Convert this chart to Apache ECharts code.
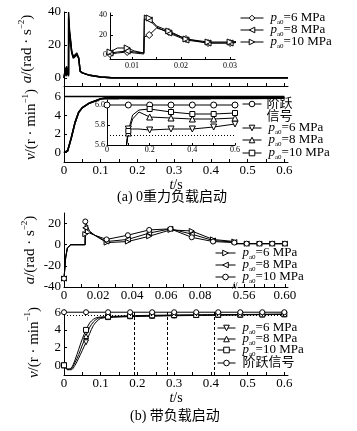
<!DOCTYPE html>
<html><head><meta charset="utf-8">
<script src="https://cdn.jsdelivr.net/npm/echarts@6/dist/echarts.min.js"></script>
<style>html,body{margin:0;padding:0;background:#fff}#c{width:357px;height:431px}</style>
</head><body><div id="c"></div>
<script>
const FONT = "'Liberation Serif','Noto Sans CJK SC','DejaVu Serif',serif";

// ===== (a) 0重力负载启动 =====
// angular acceleration a (rad/s^2) vs t (s)
const tA   = [0, 0.003, 0.004, 0.0055, 0.007, 0.009, 0.0105, 0.0124, 0.0125, 0.0135, 0.015, 0.0175, 0.021, 0.0255, 0.03, 0.035, 0.04, 0.044, 0.05, 0.07, 0.1, 0.13, 0.61];
const aA6  = [0, 0, 6, 1, 2, 3, 2, 1, 18, 20, 27, 23, 16, 12, 12, 14, 12, 4, 3, 1.5, 0.5, 0, 0];
const aA8  = [0, 0, 6, 2, 3, 4, 3, 2, 36, 35, 28, 22, 15, 12, 12, 14, 12, 4, 3, 1.5, 0.5, 0, 0];
const aA10 = [0, 0, 6, 3, 7, 7, 4, 2, 40, 37, 29, 24, 16, 13, 13, 15, 12, 4, 3, 1.5, 0.5, 0, 0];
const markA = [0.0055, 0.009, 0.0135, 0.0175, 0.021, 0.0255, 0.03];

// speed v (r/min) vs t (s)
const tVA   = [0, 0.01, 0.02, 0.03, 0.04, 0.05, 0.07, 0.09, 0.1, 0.12, 0.15, 0.2, 0.3, 0.4, 0.5, 0.6];
const vA6   = [0, 0.2, 1.6, 3.2, 4.3, 4.8, 5.3, 5.58, 5.76, 5.76, 5.76, 5.75, 5.76, 5.76, 5.78, 5.81];
const vA8   = [0, 0.2, 1.6, 3.2, 4.3, 4.8, 5.3, 5.58, 5.72, 5.86, 5.93, 5.88, 5.87, 5.86, 5.86, 5.87];
const vA10  = [0, 0.2, 1.6, 3.2, 4.3, 4.8, 5.3, 5.58, 5.74, 5.9, 5.95, 5.96, 5.93, 5.91, 5.91, 5.92];
const tStepA = [0, 0.1, 0.2, 0.3, 0.4, 0.5, 0.6];
const vStepA = [6, 6, 6, 6, 6, 6, 6];
const markVA = [0.1, 0.2, 0.3, 0.4, 0.5, 0.6];
const bandA = 5.7;

// ===== (b) 带负载启动 =====
const tB   = [0, 0.001, 0.002, 0.004, 0.0124, 0.0125, 0.015, 0.018, 0.025, 0.0375, 0.05, 0.0625, 0.075, 0.0875, 0.1, 0.5625, 0.575, 0.5875, 0.6];
const aB6  = [-32, -12, -3, 0, 0, 10, 11, 9, 2, 3, 8, 14, 13, 5, 3, 1, 1, 1, 1];
const aB8  = [-32, -12, -3, 0, 0, 16, 12, 9, 3, 5, 11, 15, 10, 4, 2.5, 1, 1, 1, 1];
const aB10 = [-32, -12, -3, 0, 0, 22, 13, 9, 5, 9, 14, 15, 7, 3, 2, 1, 1, 1, 1];
const markB = [0, 0.0125, 0.025, 0.0375, 0.05, 0.0625, 0.075, 0.0875, 0.1, 0.5625, 0.575, 0.5875, 0.6];

const tVB  = [0, 0.01, 0.02, 0.03, 0.04, 0.05, 0.06, 0.07, 0.08, 0.09, 0.1, 0.12, 0.18, 0.24, 0.3, 0.36, 0.42, 0.48, 0.54, 0.6];
const vB6  = [0, -0.5, -0.5, 0, 0.8, 1.7, 2.6, 3.6, 4.5, 5.0, 5.3, 5.4, 5.5, 5.55, 5.6, 5.63, 5.66, 5.7, 5.72, 5.75];
const vB8  = [0, -0.5, -0.4, 0.3, 1.2, 2.3, 3.3, 4.3, 4.9, 5.25, 5.4, 5.45, 5.55, 5.6, 5.65, 5.68, 5.7, 5.72, 5.75, 5.77];
const vB10 = [0, -0.4, -0.3, 0.6, 1.8, 3.0, 4.0, 4.8, 5.2, 5.4, 5.45, 5.5, 5.6, 5.65, 5.68, 5.7, 5.72, 5.74, 5.76, 5.78];
const tStepB = [0, 0.06, 0.12, 0.18, 0.24, 0.3, 0.36, 0.42, 0.48, 0.54, 0.6];
const vStepB = [6, 6, 6, 6, 6, 6, 6, 6, 6, 6, 6];
const markVB = [0, 0.06, 0.12, 0.18, 0.24, 0.3, 0.36, 0.42, 0.48, 0.54, 0.6];
const settleB = [0.19, 0.28, 0.41];
const bandB = 5.7;

// tick labels
const xLabMain = [0, 0.1, 0.2, 0.3, 0.4, 0.5, 0.6];
const xTickMain = [0, 0.05, 0.1, 0.15, 0.2, 0.25, 0.3, 0.35, 0.4, 0.45, 0.5, 0.55, 0.6];
const yLabA = [0, 20, 40];
const yLabV = [0, 2, 4, 6];
const xLabInsetV = [0, 0.2, 0.4, 0.6];
const yLabInsetV = [5.6, 5.8, 6.0];
const xLabInsetA = [0.01, 0.02, 0.03];
const xTickInsetA = [0.01, 0.015, 0.02, 0.025, 0.03];
const xLabB1 = [0, 0.02, 0.04, 0.06, 0.08];
const xTickB1 = [0, 0.01, 0.02, 0.03, 0.04, 0.05, 0.06, 0.07, 0.08, 0.09, 0.1];
const xLabB2 = [0.56, 0.60];
const xTickB2 = [0.56, 0.57, 0.58, 0.59, 0.6];
const yLabB = [-40, -20, 0, 20];

const legendText = {
  A6: '{i|p}{s|a0}=6 MPa', A8: '{i|p}{s|a0}=8 MPa', A10: '{i|p}{s|a0}=10 MPa',
  VAstep: '阶跃\n信号', VA6: '{i|p}{s|a0}=6 MPa', VA8: '{i|p}{s|a0}=8 MPa', VA10: '{i|p}{s|a0}=10 MPa',
  B6: '{i|p}{s|a0}=6 MPa', B8: '{i|p}{s|a0}=8 MPa', B10: '{i|p}{s|a0}=10 MPa',
  VB6: '{i|p}{s|a0}=6 MPa', VB8: '{i|p}{s|a0}=8 MPa', VB10: '{i|p}{s|a0}=10 MPa', VBstep: '阶跃信号'
};

const f0 = v => String(v);
const f1 = v => v === 0 ? '0' : v.toFixed(1);
const f2 = v => v === 0 ? '0' : v.toFixed(2);

function mk(ts, vs, marks) {
  return ts.map((t, i) => {
    const it = { value: [t, vs[i]] };
    if (marks && !marks.some(m => Math.abs(m - t) < 1e-9)) it.symbol = 'none';
    return it;
  });
}
function ln(name, gi, ts, vs, marks, sym, rot, size, extra) {
  return Object.assign({
    type: 'line', name, xAxisIndex: gi, yAxisIndex: gi,
    data: mk(ts, vs, marks),
    symbol: sym || 'none', symbolRotate: rot || 0, symbolSize: size || 6,
    showSymbol: !!sym, showAllSymbol: true,
    color: '#000', lineStyle: { color: '#000', width: 1 },
    itemStyle: { color: '#fff', borderColor: '#000', borderWidth: 1 },
    emphasis: { disabled: true }, silent: true, animation: false, clip: true
  }, extra || {});
}
const labStyle = (fs) => ({ color: '#000', fontFamily: FONT, fontSize: fs });
function xAx(gi, min, max, labs, ticks, fmt, fs, margin, extra) {
  return Object.assign({
    type: 'value', gridIndex: gi, min, max,
    axisLine: { show: true, onZero: false, lineStyle: { color: '#000', width: 1 } },
    axisTick: { show: true, inside: true, length: 3, customValues: ticks, lineStyle: { color: '#000' } },
    axisLabel: Object.assign({ show: !!labs, customValues: labs || [], formatter: fmt, margin }, labStyle(fs)),
    splitLine: { show: false }
  }, extra || {});
}
function yAx(gi, min, max, labs, fmt, fs, margin, extra) {
  return Object.assign({
    type: 'value', gridIndex: gi, min, max,
    axisLine: { show: true, onZero: false, lineStyle: { color: '#000', width: 1 } },
    axisTick: { show: true, inside: true, length: 3, customValues: labs || [], lineStyle: { color: '#000' } },
    axisLabel: Object.assign({ show: !!labs, customValues: labs || [], formatter: fmt, margin }, labStyle(fs)),
    splitLine: { show: false }
  }, extra || {});
}
const nameStyle = {
  color: '#000', fontFamily: FONT, fontSize: 15, lineHeight: 20,
  rich: {
    i: { fontStyle: 'italic', fontFamily: FONT, fontSize: 15, lineHeight: 20, color: '#000' },
    sup: { fontFamily: FONT, fontSize: 9, lineHeight: 9, verticalAlign: 'top', color: '#000' }
  }
};
const tNameStyle = {
  color: '#000', fontFamily: FONT, fontSize: 14, lineHeight: 14,
  rich: { i: { fontStyle: 'italic', fontFamily: FONT, fontSize: 14, lineHeight: 14, color: '#000' } }
};
const aName = '{i|a}/(rad · s{sup|−2})';
const vName = '{i|v}/(r · min{sup|−1})';
const tName = '{i|t}/s';
const yName = (txt, gap) => ({ name: txt, nameLocation: 'middle', nameRotate: 90, nameGap: gap, nameTextStyle: nameStyle });
const xName = (gap) => ({ name: tName, nameLocation: 'middle', nameGap: gap, nameTextStyle: tNameStyle });

const grids = [
  { left: 64, top: 12, width: 224, height: 74 },    // 0 (a) acceleration
  { left: 64, top: 87, width: 224, height: 75 },    // 1 (a) speed
  { left: 107, top: 100, width: 128, height: 45 },  // 2 (a) speed inset
  { left: 110, top: 13, width: 125, height: 46 },   // 3 (a) acceleration inset
  { left: 64, top: 213, width: 172, height: 74 },   // 4 (b) acceleration, part 1
  { left: 238, top: 213, width: 50, height: 74 },   // 5 (b) acceleration, part 2
  { left: 64, top: 310, width: 224, height: 65 }    // 6 (b) speed
];

const xAxes = [
  xAx(0, 0, 0.61, null, xTickMain, f1, 13, 3),
  xAx(1, 0, 0.61, xLabMain, xTickMain, f1, 13, 2, xName(13)),
  xAx(2, 0, 0.6, xLabInsetV, xLabMain, f1, 8, 1, { axisTick: { show: true, inside: true, length: 2, customValues: xLabMain, lineStyle: { color: '#000' } } }),
  xAx(3, 0.0055, 0.031, xLabInsetA, xTickInsetA, f2, 8, 3, { axisTick: { show: true, inside: true, length: 2, customValues: xTickInsetA, lineStyle: { color: '#000' } } }),
  xAx(4, 0, 0.101, xLabB1, xTickB1, f2, 13, 2),
  xAx(5, 0.554, 0.603, xLabB2, xTickB2, f2, 13, 2),
  xAx(6, 0, 0.61, xLabMain, xTickMain, f1, 13, 2, xName(13))
];
const yAxes = [
  yAx(0, -5, 40, yLabA, f0, 13, 3, yName(aName, 25)),
  yAx(1, -1, 7, yLabV, f0, 13, 3, yName(vName, 23)),
  yAx(2, 5.6, 6.05, yLabInsetV, f1, 8, 2),
  yAx(3, -4, 42, yLabA, f0, 8, 3),
  yAx(4, -40, 30, yLabB, f0, 13, 3, yName(aName, 22)),
  yAx(5, -40, 30, null, f0, 13, 3, { show: false }),
  yAx(6, -1.1, 6.25, yLabV, f0, 13, 3, yName(vName, 19))
];

const ml = (data) => ({
  silent: true, symbol: ['none', 'none'], label: { show: false }, animation: false,
  emphasis: { disabled: true }, lineStyle: { color: '#000', width: 1, type: [1, 2] }, data
});

const series = [
  // (a) acceleration main (thick, overlapping)
  ln('A6m', 0, tA, aA6, null, null, 0, 0, { lineStyle: { color: '#000', width: 1.4 } }),
  ln('A8m', 0, tA, aA8, null, null, 0, 0, { lineStyle: { color: '#000', width: 1.4 } }),
  ln('A10m', 0, tA, aA10, null, null, 0, 0, { lineStyle: { color: '#000', width: 1.4 } }),
  // (a) acceleration inset
  ln('A6', 3, tA, aA6, markA, 'diamond', 0, 7),
  ln('A8', 3, tA, aA8, markA, 'triangle', 90, 6),
  ln('A10', 3, tA, aA10, markA, 'triangle', -90, 6),
  // (a) speed main
  ln('VA6m', 1, tVA, vA6, null, null, 0, 0, { lineStyle: { color: '#000', width: 1.5 } }),
  ln('VA8m', 1, tVA, vA8, null, null, 0, 0, { lineStyle: { color: '#000', width: 1.5 } }),
  ln('VA10m', 1, tVA, vA10, null, null, 0, 0, { lineStyle: { color: '#000', width: 1.5 } }),
  ln('VAstepm', 1, tStepA, vStepA, null, null, 0, 0, { lineStyle: { color: '#000', width: 1.5 } }),
  // (a) speed inset
  ln('VAstep', 2, tStepA, vStepA, tStepA, 'circle', 0, 6, { markLine: ml([{ yAxis: bandA }]) }),
  ln('VA6', 2, tVA, vA6, markVA, 'triangle', 180, 6),
  ln('VA8', 2, tVA, vA8, markVA, 'triangle', 0, 6),
  ln('VA10', 2, tVA, vA10, markVA, 'rect', 0, 5),
  // (b) acceleration
  ln('B6', 4, tB, aB6, markB, 'triangle', -90, 5),
  ln('B8', 4, tB, aB8, markB, 'triangle', 90, 5),
  ln('B10', 4, tB, aB10, markB, 'circle', 0, 5),
  ln('B6x', 5, tB, aB6, markB, 'triangle', -90, 5),
  ln('B8x', 5, tB, aB8, markB, 'triangle', 90, 5),
  ln('B10x', 5, tB, aB10, markB, 'circle', 0, 5),
  // (b) speed
  ln('VB6', 6, tVB, vB6, markVB, 'triangle', 180, 5, { smooth: 0.3 }),
  ln('VB8', 6, tVB, vB8, markVB, 'triangle', 0, 5, { smooth: 0.3 }),
  ln('VB10', 6, tVB, vB10, markVB, 'rect', 0, 5, { smooth: 0.3 }),
  ln('VBstep', 6, tStepB, vStepB, markVB, 'circle', 0, 5, {
    markLine: ml([{ yAxis: bandB }].concat(settleB.map(x => ({ xAxis: x, lineStyle: { type: [3, 2], color: '#000', width: 1 } }))))
  })
];

// legend rows: [name, left, centerY, iconWidth]
const legendRows = [
  ['A6', 240, 18, 23], ['A8', 240, 30, 23], ['A10', 240, 42, 23],
  ['VAstep', 242, 104, 19], ['VA6', 242, 128, 19], ['VA8', 242, 140, 19], ['VA10', 242, 153, 19],
  ['B6', 215, 253, 20], ['B8', 215, 265, 20], ['B10', 215, 277, 20],
  ['VB6', 217, 328, 18], ['VB8', 217, 339, 18], ['VB10', 217, 350, 18], ['VBstep', 217, 363, 18]
];
const legRich = {
  i: { fontStyle: 'italic', fontFamily: FONT, fontSize: 13, lineHeight: 16, color: '#000' },
  s: { fontFamily: FONT, fontSize: 7, lineHeight: 8, verticalAlign: 'bottom', color: '#000' }
};
const legends = legendRows.map(([name, left, cy, w]) => {
  const two = name === 'VAstep';
  return {
    show: true, data: [name], left, top: two ? cy - 19.5 : cy - 8,
    orient: 'horizontal', itemWidth: w, itemHeight: 7, itemGap: 0, padding: 0,
    selectedMode: false, formatter: () => legendText[name],
    itemStyle: { color: '#fff', borderColor: '#000', borderWidth: 1 },
    lineStyle: { color: '#000', width: 1 },
    textStyle: Object.assign({ color: '#000', fontFamily: FONT, fontSize: 13, lineHeight: two ? 13 : 16, rich: legRich },
      two ? { padding: [13, 0, 0, 0] } : { padding: [0, 0, 0, 2] })
  };
});

const option = {
  animation: false,
  backgroundColor: '#fff',
  title: [
    { text: '(a) 0重力负载启动', left: 117, top: 190, padding: 0, textStyle: { fontFamily: FONT, fontSize: 14, fontWeight: 'normal', color: '#000' } },
    { text: '(b) 带负载启动', left: 130, top: 409, padding: 0, textStyle: { fontFamily: FONT, fontSize: 14, fontWeight: 'normal', color: '#000' } }
  ],
  grid: grids,
  xAxis: xAxes,
  yAxis: yAxes,
  legend: legends,
  series,
  graphic: [
    { type: 'text', left: 232, top: 281, style: { text: '//', font: "10px 'Liberation Serif'", fill: '#000' } }
  ]
};

const chart = echarts.init(document.getElementById('c'), null, { renderer: 'canvas' });
chart.setOption(option);
</script>
</body></html>
